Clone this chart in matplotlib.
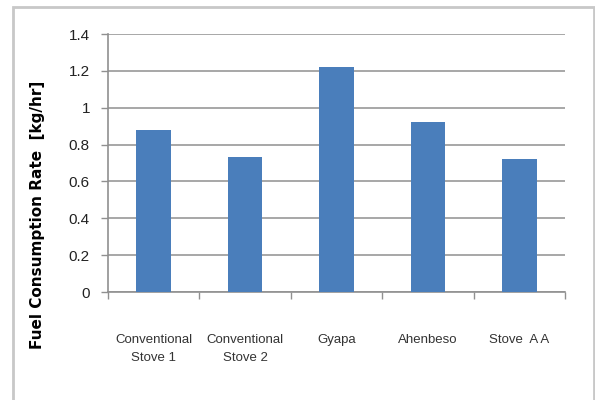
import numpy as np
import matplotlib.pyplot as plt
from matplotlib.patches import Rectangle

stoves = ['Conventional\nStove 1', 'Conventional\nStove 2', 'Gyapa', 'Ahenbeso', 'Stove  A A']
rates = [0.88, 0.73, 1.22, 0.92, 0.72]
yticks = [0, 0.2, 0.4, 0.6, 0.8, 1, 1.2, 1.4]
ytick_labels = ['0', '0.2', '0.4', '0.6', '0.8', '1', '1.2', '1.4']

plt.rcParams['font.family'] = ['Liberation Sans', 'DejaVu Sans']

fig = plt.figure(figsize=(5.95, 4.0), dpi=100)
ax = fig.add_axes([0.1815, 0.27, 0.768, 0.645])

x = np.arange(len(stoves))
ax.bar(x, rates, width=0.38, color='#4a7ebb', zorder=3)

ax.set_xlim(-0.5, len(stoves) - 0.5)
ax.set_ylim(0, 1.4)
ax.set_yticks(yticks)
ax.set_yticklabels(ytick_labels, fontsize=11, color='#222222')
ax.yaxis.grid(True, color='#a0a0a0', linewidth=1.3, zorder=0)

# category ticks between bars, labels centred
ax.set_xticks(np.arange(-0.5, len(stoves)), minor=False)
ax.set_xticklabels([])
ax.set_xticks(x, minor=True)
ax.set_xticklabels(stoves, minor=True, fontsize=9.5, color='#333333', linespacing=1.75)
ax.tick_params(axis='x', which='minor', length=0, pad=30)
ax.tick_params(axis='x', which='major', length=5, color='#909090', width=1)
ax.tick_params(axis='y', length=5, color='#909090', width=1, pad=8)

for s in ['top', 'right']:
    ax.spines[s].set_visible(False)
for s in ['left', 'bottom']:
    ax.spines[s].set_color('#909090')
    ax.spines[s].set_linewidth(1.2)

fig.text(38 / 595, 1 - 215 / 400, 'Fuel Consumption Rate  [kg/hr]', rotation=90,
         ha='center', va='center', fontsize=11, fontweight='bold', family='DejaVu Sans')

# outer chart border
fig.patches.append(Rectangle((13 / 595, -0.01), 581 / 595, 1 - 7 / 400 + 0.01, transform=fig.transFigure,
                             fill=False, edgecolor='#c8c8c8', linewidth=2))

fig.savefig('out.png', dpi=100)
